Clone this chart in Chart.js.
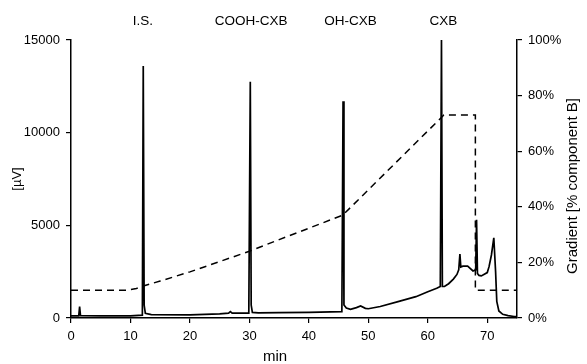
<!DOCTYPE html>
<html>
<head>
<meta charset="utf-8">
<script src="https://cdn.jsdelivr.net/npm/chart.js@4/dist/chart.umd.min.js"></script>
<style>
  html, body { margin: 0; padding: 0; background: #fff; }
  #wrap { width: 587px; height: 364px; }
</style>
</head>
<body>
<div id="wrap"><canvas id="chromChart" width="587" height="364"></canvas></div>
<script>
// chromatogram trace (min, µV)
const chromTime = [
  0, 1.3, 1.45, 1.6, 5, 10, 12.0, 12.15, 12.3, 12.5, 13.5,
  20, 25, 26.5, 26.8, 27.1, 29.9, 30.15, 30.3, 30.5, 31.5, 35, 40,
  45.55, 45.75, 45.9, 46.3, 47, 48, 48.7, 49.5, 50, 52, 55, 58, 60,
  61.5, 62.1, 62.3, 62.45, 62.8, 63.5, 64.3, 64.9, 65.2, 65.4, 65.55,
  65.9, 66.7, 67.6, 68.05, 68.2, 68.35, 68.6, 69, 70, 70.3, 70.7, 71.1, 71.4, 71.6,
  71.95, 72.6, 73.5, 74.5, 75
];
const chromSignal = [
  120, 120, 610, 120, 110, 110, 150, 13600, 700, 250, 180,
  170, 220, 260, 340, 260, 260, 12750, 700, 300, 280, 290, 300,
  340, 11700, 700, 540, 470, 560, 650, 520, 500, 620, 880, 1150, 1420,
  1600, 1700, 15000, 1700, 1700, 1850, 2100, 2350, 2600, 3450, 2750,
  2800, 2800, 2540, 2600, 5300, 2400, 2300, 2270, 2450, 2770, 3400, 4330, 2500, 900,
  380, 200, 130, 80, 80
];

// mobile phase gradient (min, % component B)
const gradTime = [0, 9.5, 11, 12, 15, 20, 25, 30, 35, 40, 45.7, 62.7, 68, 68, 75];
const gradPct = [10, 10, 10.6, 11.4, 13.3, 16.6, 20.3, 24, 28.2, 32.3, 37, 73, 73, 10, 10];

// axis ticks
const xTicks = [0, 10, 20, 30, 40, 50, 60, 70];
const yTicks = [0, 5000, 10000, 15000];
const y2Ticks = [0, 20, 40, 60, 80, 100];

// peak names and where their labels sit (min)
const peakNames = ["I.S.", "COOH-CXB", "OH-CXB", "CXB"];
const peakLabelTime = [12.1, 30.3, 47, 62.6];

const FONT = "'Liberation Sans', Arial, sans-serif";

const textPlugin = {
  id: "extraText",
  afterDraw(chart) {
    const c = chart.ctx;
    const xs = chart.scales.x;
    c.save();
    c.fillStyle = "#000";
    c.textAlign = "center";
    c.textBaseline = "middle";
    c.font = "13.5px " + FONT;
    peakNames.forEach((n, i) => {
      c.fillText(n, xs.getPixelForValue(peakLabelTime[i]), 21);
    });
    c.font = "15px " + FONT;
    c.fillText("min", 275, 357);
    // right axis title reads bottom to top
    c.translate(573, 186);
    c.rotate(-Math.PI / 2);
    c.fillText("Gradient [% component B]", 0, 0);
    c.restore();
  }
};

function fixedTicks(vals) {
  return function (s) { s.ticks = vals.map(v => ({ value: v })); };
}

const ctx = document.getElementById("chromChart");
new Chart(ctx, {
  type: "line",
  data: {
    datasets: [
      {
        label: "signal",
        data: chromTime.map((t, i) => ({ x: t, y: chromSignal[i] })),
        yAxisID: "y",
        borderColor: "#000",
        borderWidth: 1.7,
        pointRadius: 0,
        tension: 0,
        fill: false
      },
      {
        label: "gradient",
        data: gradTime.map((t, i) => ({ x: t, y: gradPct[i] })),
        yAxisID: "y2",
        borderColor: "#000",
        borderWidth: 1.5,
        borderDash: [7, 5],
        pointRadius: 0,
        tension: 0,
        fill: false
      }
    ]
  },
  options: {
    responsive: false,
    animation: false,
    layout: { padding: { top: 40, left: 0, right: 0, bottom: 0 } },
    plugins: {
      legend: { display: false },
      title: { display: false },
      tooltip: { enabled: false }
    },
    scales: {
      x: {
        type: "linear",
        min: 0,
        max: 75,
        afterBuildTicks: fixedTicks(xTicks),
        afterFit: s => { s.height = 46; },
        border: { display: true, color: "#000", width: 1.5 },
        grid: { drawOnChartArea: false, drawTicks: true, tickLength: 5, color: "#000", lineWidth: 1.2 },
        ticks: { color: "#000", font: { family: FONT, size: 13 }, padding: 6, maxRotation: 0, callback: v => String(v) }
      },
      y: {
        position: "left",
        min: 0,
        max: 15000,
        afterBuildTicks: fixedTicks(yTicks),
        afterFit: s => { s.width = 71; },
        border: { display: true, color: "#000", width: 1.5 },
        grid: { drawOnChartArea: false, drawTicks: true, tickLength: 5, color: "#000", lineWidth: 1.2 },
        ticks: { color: "#000", font: { family: FONT, size: 13 }, padding: 6, callback: v => String(v) },
        title: { display: true, text: "[µV]", color: "#000", font: { family: FONT, size: 13 }, padding: { top: 10, bottom: 0 } }
      },
      y2: {
        position: "right",
        min: 0,
        max: 100,
        afterBuildTicks: fixedTicks(y2Ticks),
        afterFit: s => { s.width = 70; },
        border: { display: true, color: "#000", width: 1.5 },
        grid: { drawOnChartArea: false, drawTicks: true, tickLength: 5, color: "#000", lineWidth: 1.2 },
        ticks: { color: "#000", font: { family: FONT, size: 13 }, padding: 6, callback: v => v + "%" }
      }
    }
  },
  plugins: [textPlugin]
});
</script>
</body>
</html>
